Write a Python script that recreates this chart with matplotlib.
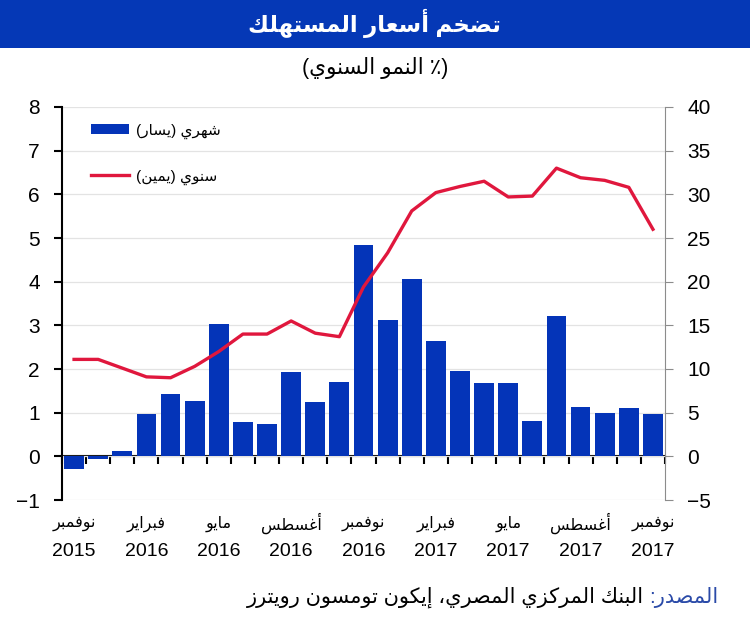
import matplotlib
matplotlib.use("Agg")
import matplotlib.pyplot as plt
from matplotlib.patches import Rectangle

# Dados (Nov 2015 - Nov 2017)
meses = list(range(25))
mensal = [-0.28, -0.07, 0.12, 0.97, 1.43, 1.27, 3.04, 0.78, 0.75, 1.93, 1.25, 1.70,
          4.85, 3.12, 4.07, 2.63, 1.95, 1.69, 1.67, 0.82, 3.22, 1.14, 1.00, 1.11, 0.97]
anual = [11.1, 11.1, 10.1, 9.1, 9.0, 10.3, 12.0, 14.0, 14.0, 15.5, 14.1, 13.7,
         19.4, 23.3, 28.1, 30.2, 30.9, 31.5, 29.7, 29.8, 33.0, 31.9, 31.6, 30.8, 26.0]
tick_pos = [0, 3, 6, 9, 12, 15, 18, 21, 24]
tick_mes = ["نوفمبر", "فبراير", "مايو", "أغسطس", "نوفمبر", "فبراير", "مايو", "أغسطس", "نوفمبر"]
tick_ano = ["2015", "2016", "2016", "2016", "2016", "2017", "2017", "2017", "2017"]

titulo = "تضخم أسعار المستهلك"
subtitulo = "النمو السنوي"
leg_mensal = "شهري (يسار)"
leg_anual = "سنوي (يمين)"
fonte_a = "المصدر:"
fonte_b = "البنك المركزي المصري، إيكون تومسون رويترز"

# Formas de apresentacao arabes (isolada, final, inicial, medial)
FORMS = {
    'ا': (0xFE8D, 0xFE8E), 'أ': (0xFE83, 0xFE84), 'إ': (0xFE87, 0xFE88), 'آ': (0xFE81, 0xFE82),
    'د': (0xFEA9, 0xFEAA), 'ذ': (0xFEAB, 0xFEAC), 'ر': (0xFEAD, 0xFEAE), 'ز': (0xFEAF, 0xFEB0),
    'و': (0xFEED, 0xFEEE), 'ى': (0xFEEF, 0xFEF0), 'ة': (0xFE93, 0xFE94),
    'ب': (0xFE8F, 0xFE90, 0xFE91, 0xFE92), 'ت': (0xFE95, 0xFE96, 0xFE97, 0xFE98),
    'ث': (0xFE99, 0xFE9A, 0xFE9B, 0xFE9C), 'ج': (0xFE9D, 0xFE9E, 0xFE9F, 0xFEA0),
    'ح': (0xFEA1, 0xFEA2, 0xFEA3, 0xFEA4), 'خ': (0xFEA5, 0xFEA6, 0xFEA7, 0xFEA8),
    'س': (0xFEB1, 0xFEB2, 0xFEB3, 0xFEB4), 'ش': (0xFEB5, 0xFEB6, 0xFEB7, 0xFEB8),
    'ص': (0xFEB9, 0xFEBA, 0xFEBB, 0xFEBC), 'ض': (0xFEBD, 0xFEBE, 0xFEBF, 0xFEC0),
    'ط': (0xFEC1, 0xFEC2, 0xFEC3, 0xFEC4), 'ظ': (0xFEC5, 0xFEC6, 0xFEC7, 0xFEC8),
    'ع': (0xFEC9, 0xFECA, 0xFECB, 0xFECC), 'غ': (0xFECD, 0xFECE, 0xFECF, 0xFED0),
    'ف': (0xFED1, 0xFED2, 0xFED3, 0xFED4), 'ق': (0xFED5, 0xFED6, 0xFED7, 0xFED8),
    'ك': (0xFED9, 0xFEDA, 0xFEDB, 0xFEDC), 'ل': (0xFEDD, 0xFEDE, 0xFEDF, 0xFEE0),
    'م': (0xFEE1, 0xFEE2, 0xFEE3, 0xFEE4), 'ن': (0xFEE5, 0xFEE6, 0xFEE7, 0xFEE8),
    'ه': (0xFEE9, 0xFEEA, 0xFEEB, 0xFEEC), 'ي': (0xFEF1, 0xFEF2, 0xFEF3, 0xFEF4),
}


def ar(s):
    # molda as letras e inverte para exibicao da direita para a esquerda
    out = []
    n = len(s)
    for i, c in enumerate(s):
        f = FORMS.get(c)
        if f is None:
            out.append(c)
            continue
        prev = FORMS.get(s[i - 1]) if i > 0 else None
        nxt = FORMS.get(s[i + 1]) if i < n - 1 else None
        pj = prev is not None and len(prev) == 4
        nj = nxt is not None and len(f) == 4
        if pj and nj:
            out.append(chr(f[3]))
        elif pj:
            out.append(chr(f[1]))
        elif nj:
            out.append(chr(f[2]))
        else:
            out.append(chr(f[0]))
    vis = ''.join(out)[::-1]
    return vis.translate(str.maketrans("()", ")("))


plt.rcParams['font.family'] = ['Liberation Sans', 'DejaVu Sans']

azul = "#0434B8"
vermelho = "#E0173D"

fig = plt.figure(figsize=(7.5, 6.26), dpi=100)
fig.patches.append(Rectangle((0, 1 - 48 / 626), 1, 48 / 626, transform=fig.transFigure,
                             facecolor="#0538B6", edgecolor="none"))
fig.text(0.5, 1 - 23 / 626, ar(titulo), color="white", fontsize=16.5, fontweight="bold",
         ha="center", va="center")
fig.text(0.5, 1 - 68 / 626, "(" + ar(subtitulo) + " ٪)", fontsize=15.5, ha="center", va="center")

ax = fig.add_axes([62 / 750, 1 - 500 / 626, 603 / 750, 393 / 626])
barras = ax.bar(meses, mensal, width=0.82, color=azul, zorder=2)
ax.set_xlim(-0.5, 24.5)
ax.set_ylim(-1, 8)
ax.set_yticks(range(-1, 9))
ax.grid(axis="y", color="#E3E3E3", linewidth=0.9)
ax.set_axisbelow(True)
for s in ["top", "right", "bottom"]:
    ax.spines[s].set_visible(False)
ax.spines["left"].set_linewidth(1.5)
ax.tick_params(axis="y", length=6, width=1.5, pad=10, labelsize=15)

# anos como rotulos, meses logo acima
ax.set_xticks(tick_pos)
ax.set_xticklabels(tick_ano, fontsize=14)
ax.tick_params(axis="x", length=0, pad=31)
for p, m in zip(tick_pos, tick_mes):
    ax.annotate(ar(m), xy=(p, 0), xycoords=("data", "axes fraction"),
                xytext=(0, -17), textcoords="offset points",
                ha="center", va="center", fontsize=11.5)

# linha do zero com marcas entre as barras
zero_loc = (0 - (-1)) / (8 - (-1))
sec = ax.secondary_xaxis(zero_loc)
sec.set_xticks([m - 0.5 for m in meses] + [24.5])
sec.set_xticklabels([])
sec.tick_params(length=6, width=1.5, direction="out")
sec.spines["bottom"].set_linewidth(1.5)

ax2 = ax.twinx()
linha, = ax2.plot(meses, anual, color=vermelho, linewidth=2.4, zorder=3)
ax2.set_ylim(-5, 40)
ax2.set_yticks(range(-5, 41, 5))
for s in ["top", "left", "bottom"]:
    ax2.spines[s].set_visible(False)
ax2.spines["right"].set_color("#8C8C8C")
ax2.tick_params(axis="y", length=6, color="#8C8C8C", pad=10, labelsize=15)

ax2.legend([barras, linha], [ar(leg_mensal), ar(leg_anual)], loc="upper left",
           bbox_to_anchor=(0.025, 0.993), frameon=False, fontsize=11, handlelength=2.5,
           handleheight=0.6, labelspacing=2.0, handletextpad=0.45)

t1 = fig.text(718 / 750, 1 - 597 / 626, ar(fonte_a), color="#2A4AA8", fontsize=15,
              ha="right", va="center")
fig.canvas.draw()
bb = t1.get_window_extent()
fig.text((bb.x0 - 5) / 750, 1 - 597 / 626, ar(fonte_b), fontsize=15, ha="right", va="center")

fig.savefig("out.png", dpi=100)
